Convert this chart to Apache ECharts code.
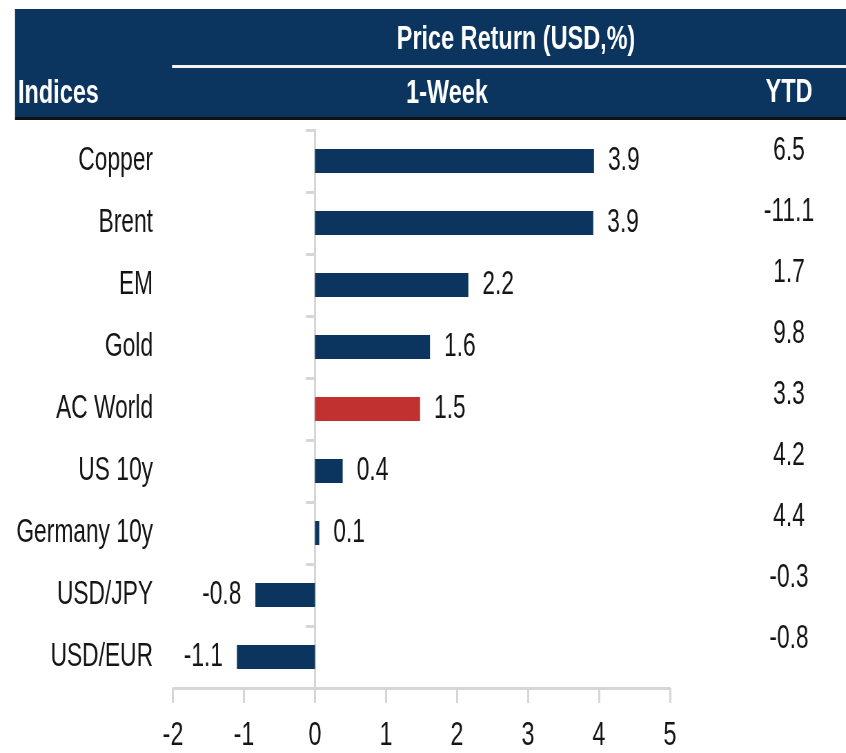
<!DOCTYPE html>
<html><head><meta charset="utf-8">
<script src="https://cdn.jsdelivr.net/npm/echarts@6/dist/echarts.min.js"></script>
<style>
html,body{margin:0;padding:0;background:#fff;overflow:hidden;}
#wrap{width:846px;height:753px;overflow:hidden;position:relative;}
#chart{width:1226px;height:753px;transform:scaleX(0.69);transform-origin:0 0;}
</style></head><body><div id="wrap"><div id="chart"></div></div>
<script>
// ---- data ----
const categories = ['Copper', 'Brent', 'EM', 'Gold', 'AC World', 'US 10y', 'Germany 10y', 'USD/JPY', 'USD/EUR'];
const weekReturn = [3.93, 3.92, 2.16, 1.62, 1.48, 0.39, 0.06, -0.84, -1.1];
const ytdReturn = ['6.5', '-11.1', '1.7', '9.8', '3.3', '4.2', '4.4', '-0.3', '-0.8'];
const xMin = -2, xMax = 5, xStep = 1;
const highlightName = 'AC World';
const headerTitle = 'Price Return (USD,%)';
const headerCols = ['Indices', '1-Week', 'YTD'];

// ---- style ----
const S = 0.69;                 // horizontal condensation of the whole picture
const W = 846 / S;
const FONT = "'Liberation Sans', Arial, sans-serif";
const NAVY = '#0b355f';
const RED = '#c0312f';
const AXIS = '#d6d6d6';
const TXT = '#151515';
const X = v => v / S;

const chart = echarts.init(document.getElementById('chart'), null, {renderer: 'canvas'});

const barData = weekReturn.map((v, i) => ({
  value: v,
  itemStyle: {color: categories[i] === highlightName ? RED : NAVY},
  label: {position: v < 0 ? 'left' : 'right'}
}));

chart.setOption({
  animation: false,
  textStyle: {fontFamily: FONT},
  graphic: [
    {type: 'rect', shape: {x: X(15), y: 9, width: W, height: 108}, style: {fill: NAVY}, z: 0},
    {type: 'rect', shape: {x: X(15), y: 117, width: W, height: 3}, style: {fill: '#111'}, z: 0},
    {type: 'rect', shape: {x: X(172), y: 65, width: W, height: 3}, style: {fill: '#f4f4f4'}, z: 1},
    {type: 'text', x: X(516), y: 40, style: {text: headerTitle, fill: '#fff', font: "bold 34px " + FONT, textAlign: 'center', textVerticalAlign: 'middle'}, z: 2},
    {type: 'text', x: X(18), y: 94, style: {text: headerCols[0], fill: '#fff', font: "bold 34px " + FONT, textAlign: 'left', textVerticalAlign: 'middle'}, z: 2},
    {type: 'text', x: X(447), y: 94, style: {text: headerCols[1], fill: '#fff', font: "bold 34px " + FONT, textAlign: 'center', textVerticalAlign: 'middle'}, z: 2},
    {type: 'text', x: X(789), y: 93, style: {text: headerCols[2], fill: '#fff', font: "bold 34px " + FONT, textAlign: 'center', textVerticalAlign: 'middle'}, z: 2}
  ],
  grid: [
    {left: X(173), right: W - X(670), top: 130, bottom: 64},
    {left: X(740), width: X(789) - X(740), top: 120.5, bottom: 84}
  ],
  xAxis: [
    {
      type: 'value', gridIndex: 0, min: xMin, max: xMax, interval: xStep,
      axisLine: {show: true, lineStyle: {color: AXIS, width: 3}},
      axisTick: {show: true, length: 15, lineStyle: {color: AXIS, width: 3}},
      splitLine: {show: false},
      axisLabel: {fontSize: 34, color: TXT, margin: 31, fontFamily: FONT}
    },
    {type: 'value', gridIndex: 1, show: false}
  ],
  yAxis: [
    {
      type: 'category', gridIndex: 0, data: categories, inverse: true,
      axisLine: {show: true, onZero: true, lineStyle: {color: AXIS, width: 3}},
      axisTick: {show: true, length: 13, lineStyle: {color: AXIS, width: 3}},
      axisLabel: {show: false}
    },
    {
      type: 'category', gridIndex: 0, data: categories, inverse: true, position: 'left',
      axisLine: {show: false, onZero: false},
      axisTick: {show: false},
      axisLabel: {fontSize: 33, color: TXT, margin: X(20), fontFamily: FONT}
    },
    {
      type: 'category', gridIndex: 1, data: ytdReturn, inverse: true, position: 'right',
      axisLine: {show: false, onZero: false},
      axisTick: {show: false},
      axisLabel: {fontSize: 33, color: TXT, margin: 0, align: 'center', fontFamily: FONT}
    }
  ],
  series: [{
    type: 'bar', xAxisIndex: 0, yAxisIndex: 0,
    barWidth: 24,
    data: barData,
    label: {
      show: true, fontSize: 33, color: TXT, distance: X(14), fontFamily: FONT,
      formatter: p => p.value.toFixed(1)
    }
  }]
});
</script></body></html>
